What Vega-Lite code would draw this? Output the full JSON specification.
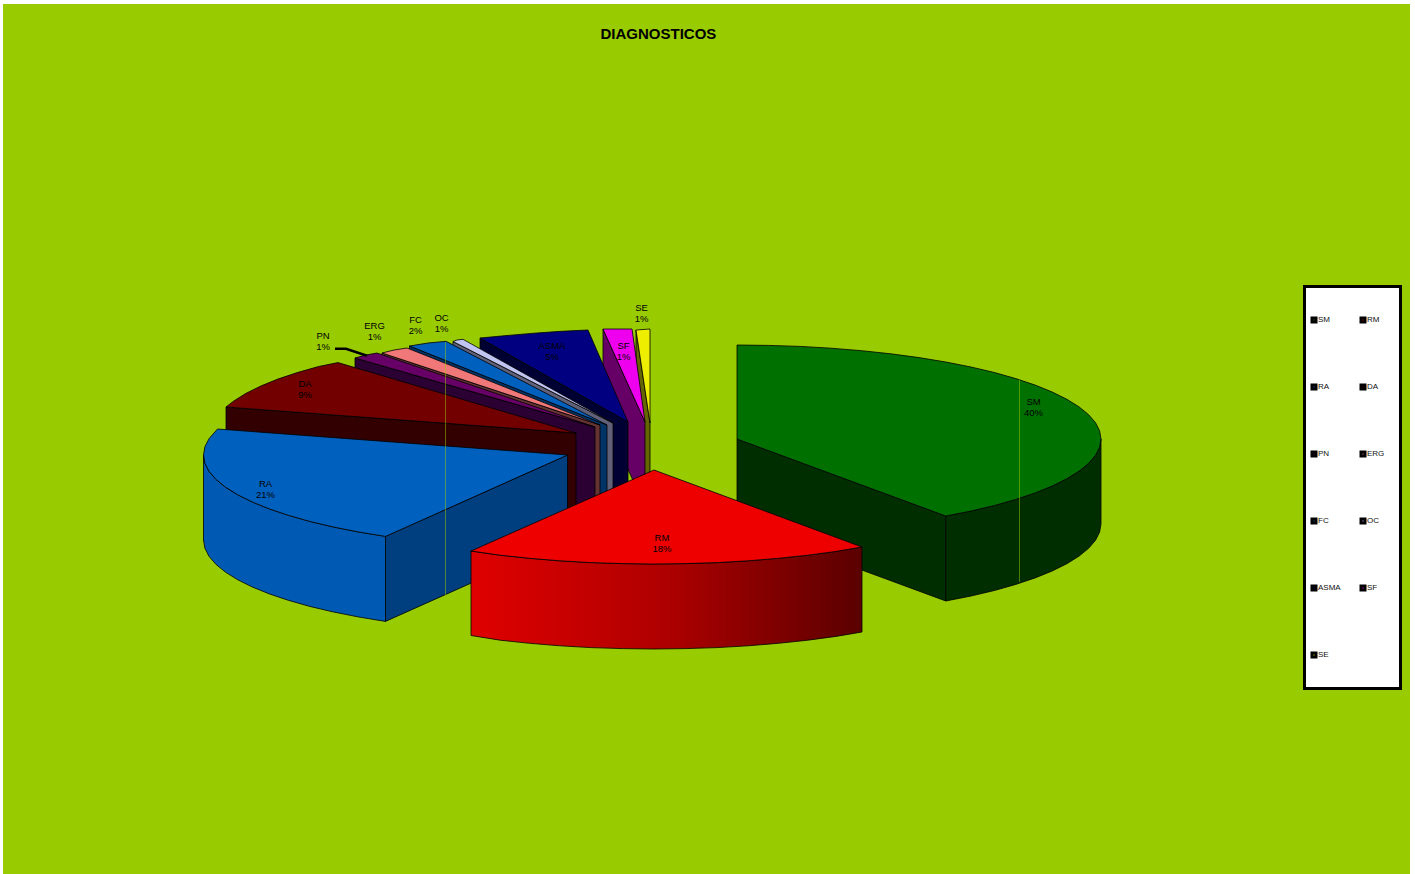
{
  "$schema": "https://vega.github.io/schema/vega-lite/v6.json",
  "width": 1407,
  "height": 870,
  "autosize": {"type": "none"},
  "padding": {"left": 3, "top": 4, "right": 5, "bottom": 0},
  "background": "#ffffff",
  "view": {"fill": "#99CC00", "stroke": null},
  "title": {
    "text": "DIAGNOSTICOS",
    "anchor": "start",
    "frame": "group",
    "align": "left",
    "dx": 597.5,
    "dy": 41.5,
    "font": "Liberation Sans",
    "fontSize": 15,
    "fontWeight": "bold",
    "color": "#000000"
  },
  "datasets": {
    "outlines": [
      {"face":"SE wall","x":636,"y":330},{"face":"SE wall","x":650,"y":423},{"face":"SE wall","x":650,"y":508},{"face":"SE wall","x":636,"y":415},{"face":"SE wall","x":636,"y":330},
      {"face":"SE","x":636,"y":330},{"face":"SE","x":650,"y":329},{"face":"SE","x":650,"y":423},{"face":"SE","x":636,"y":330},
      {"face":"SF wall","x":603,"y":329},{"face":"SF wall","x":645,"y":422},{"face":"SF wall","x":645,"y":507},{"face":"SF wall","x":603,"y":414},{"face":"SF wall","x":603,"y":329},
      {"face":"SF","x":603,"y":329},{"face":"SF","x":632,"y":329},{"face":"SF","x":645,"y":422},{"face":"SF","x":603,"y":329},
      {"face":"ASMA wall","x":480,"y":338},{"face":"ASMA wall","x":628,"y":422},{"face":"ASMA wall","x":628,"y":507},{"face":"ASMA wall","x":480,"y":423},{"face":"ASMA wall","x":480,"y":338},
      {"face":"ASMA","x":480,"y":338},{"face":"ASMA","x":507,"y":335.5},{"face":"ASMA","x":534,"y":333.2},{"face":"ASMA","x":561,"y":331.3},{"face":"ASMA","x":588,"y":330},{"face":"ASMA","x":628,"y":422},{"face":"ASMA","x":480,"y":338},
      {"face":"OC wall","x":453,"y":341.5},{"face":"OC wall","x":613,"y":423},{"face":"OC wall","x":613,"y":508},{"face":"OC wall","x":453,"y":426.5},{"face":"OC wall","x":453,"y":341.5},
      {"face":"OC","x":453,"y":341.5},{"face":"OC","x":457,"y":340},{"face":"OC","x":463,"y":339.3},{"face":"OC","x":613,"y":423},{"face":"OC","x":453,"y":341.5},
      {"face":"FC wall","x":409.5,"y":346},{"face":"FC wall","x":607,"y":425},{"face":"FC wall","x":607,"y":510},{"face":"FC wall","x":409.5,"y":431},{"face":"FC wall","x":409.5,"y":346},
      {"face":"FC","x":409.5,"y":346},{"face":"FC","x":428,"y":343},{"face":"FC","x":446,"y":341.3},{"face":"FC","x":607,"y":425},{"face":"FC","x":409.5,"y":346},
      {"face":"ERG wall","x":382,"y":353},{"face":"ERG wall","x":600,"y":425},{"face":"ERG wall","x":600,"y":510},{"face":"ERG wall","x":382,"y":438},{"face":"ERG wall","x":382,"y":353},
      {"face":"ERG","x":382,"y":353},{"face":"ERG","x":394,"y":350},{"face":"ERG","x":407,"y":348},{"face":"ERG","x":600,"y":425},{"face":"ERG","x":382,"y":353},
      {"face":"PN wall","x":355,"y":358},{"face":"PN wall","x":595,"y":427},{"face":"PN wall","x":595,"y":512},{"face":"PN wall","x":355,"y":443},{"face":"PN wall","x":355,"y":358},
      {"face":"PN","x":355,"y":358},{"face":"PN","x":366,"y":355},{"face":"PN","x":377,"y":353},{"face":"PN","x":595,"y":427},{"face":"PN","x":355,"y":358},
      {"face":"DA wall","x":226,"y":407},{"face":"DA wall","x":576,"y":433},{"face":"DA wall","x":576,"y":518},{"face":"DA wall","x":226,"y":492},{"face":"DA wall","x":226,"y":407},
      {"face":"DA","x":226,"y":407},{"face":"DA","x":233.9,"y":400.9},{"face":"DA","x":246.1,"y":393.3},{"face":"DA","x":260.8,"y":386},{"face":"DA","x":277.8,"y":379.1},{"face":"DA","x":297.2,"y":372.6},{"face":"DA","x":318.6,"y":366.5},{"face":"DA","x":338,"y":362.6},{"face":"DA","x":576,"y":433},{"face":"DA","x":226,"y":407},
      {"face":"RA inner wall","x":567.5,"y":455},{"face":"RA inner wall","x":385.5,"y":536.4},{"face":"RA inner wall","x":385.5,"y":621.4},{"face":"RA inner wall","x":567.5,"y":540},{"face":"RA inner wall","x":567.5,"y":455},
      {"face":"RA wall","x":385.5,"y":536.4},{"face":"RA wall","x":358.7,"y":532},{"face":"RA wall","x":333.5,"y":527},{"face":"RA wall","x":310.1,"y":521.5},{"face":"RA wall","x":288.7,"y":515.4},{"face":"RA wall","x":269.3,"y":508.9},{"face":"RA wall","x":252.3,"y":502},{"face":"RA wall","x":237.6,"y":494.7},{"face":"RA wall","x":225.4,"y":487.1},{"face":"RA wall","x":215.9,"y":479.3},{"face":"RA wall","x":209,"y":471.3},{"face":"RA wall","x":204.9,"y":463.2},{"face":"RA wall","x":203.5,"y":455},
      {"face":"RA wall","x":203.5,"y":540},{"face":"RA wall","x":204.9,"y":548.2},{"face":"RA wall","x":209,"y":556.3},{"face":"RA wall","x":215.9,"y":564.3},{"face":"RA wall","x":225.4,"y":572.1},{"face":"RA wall","x":237.6,"y":579.7},{"face":"RA wall","x":252.3,"y":587},{"face":"RA wall","x":269.3,"y":593.9},{"face":"RA wall","x":288.7,"y":600.4},{"face":"RA wall","x":310.1,"y":606.5},{"face":"RA wall","x":333.5,"y":612},{"face":"RA wall","x":358.7,"y":617},{"face":"RA wall","x":385.5,"y":621.4},{"face":"RA wall","x":385.5,"y":536.4},
      {"face":"RA","x":567.5,"y":455},{"face":"RA","x":385.5,"y":536.4},{"face":"RA","x":358.7,"y":532},{"face":"RA","x":333.5,"y":527},{"face":"RA","x":310.1,"y":521.5},{"face":"RA","x":288.7,"y":515.4},{"face":"RA","x":269.3,"y":508.9},{"face":"RA","x":252.3,"y":502},{"face":"RA","x":237.6,"y":494.7},{"face":"RA","x":225.4,"y":487.1},{"face":"RA","x":215.9,"y":479.3},{"face":"RA","x":209,"y":471.3},{"face":"RA","x":204.9,"y":463.2},{"face":"RA","x":203.5,"y":455},{"face":"RA","x":204.9,"y":446.8},{"face":"RA","x":209,"y":438.7},{"face":"RA","x":217.5,"y":429},{"face":"RA","x":567.5,"y":455},
      {"face":"SM inner wall","x":737,"y":439},{"face":"SM inner wall","x":945.8,"y":516},{"face":"SM inner wall","x":945.8,"y":601},{"face":"SM inner wall","x":737,"y":524},{"face":"SM inner wall","x":737,"y":439},
      {"face":"SM wall","x":1101,"y":439},{"face":"SM wall","x":1099.6,"y":447.2},{"face":"SM wall","x":1095.5,"y":455.3},{"face":"SM wall","x":1088.6,"y":463.3},{"face":"SM wall","x":1079.1,"y":471.1},{"face":"SM wall","x":1066.9,"y":478.7},{"face":"SM wall","x":1052.2,"y":486},{"face":"SM wall","x":1035.2,"y":492.9},{"face":"SM wall","x":1015.8,"y":499.4},{"face":"SM wall","x":994.4,"y":505.5},{"face":"SM wall","x":971,"y":511},{"face":"SM wall","x":945.8,"y":516},
      {"face":"SM wall","x":945.8,"y":601},{"face":"SM wall","x":971,"y":596},{"face":"SM wall","x":994.4,"y":590.5},{"face":"SM wall","x":1015.8,"y":584.4},{"face":"SM wall","x":1035.2,"y":577.9},{"face":"SM wall","x":1052.2,"y":571},{"face":"SM wall","x":1066.9,"y":563.7},{"face":"SM wall","x":1079.1,"y":556.1},{"face":"SM wall","x":1088.6,"y":548.3},{"face":"SM wall","x":1095.5,"y":540.3},{"face":"SM wall","x":1099.6,"y":532.2},{"face":"SM wall","x":1101,"y":524},{"face":"SM wall","x":1101,"y":439},
      {"face":"SM","x":737,"y":439},{"face":"SM","x":737,"y":345},{"face":"SM","x":768.7,"y":345.4},{"face":"SM","x":800.2,"y":346.4},{"face":"SM","x":831.2,"y":348.2},{"face":"SM","x":861.5,"y":350.7},{"face":"SM","x":890.8,"y":353.8},{"face":"SM","x":919,"y":357.6},{"face":"SM","x":945.8,"y":362},{"face":"SM","x":971,"y":367},{"face":"SM","x":994.4,"y":372.5},{"face":"SM","x":1015.8,"y":378.6},{"face":"SM","x":1035.2,"y":385.1},{"face":"SM","x":1052.2,"y":392},{"face":"SM","x":1066.9,"y":399.3},{"face":"SM","x":1079.1,"y":406.9},{"face":"SM","x":1088.6,"y":414.7},{"face":"SM","x":1095.5,"y":422.7},{"face":"SM","x":1099.6,"y":430.8},{"face":"SM","x":1101,"y":439},{"face":"SM","x":1099.6,"y":447.2},{"face":"SM","x":1095.5,"y":455.3},{"face":"SM","x":1088.6,"y":463.3},{"face":"SM","x":1079.1,"y":471.1},{"face":"SM","x":1066.9,"y":478.7},{"face":"SM","x":1052.2,"y":486},{"face":"SM","x":1035.2,"y":492.9},{"face":"SM","x":1015.8,"y":499.4},{"face":"SM","x":994.4,"y":505.5},{"face":"SM","x":971,"y":511},{"face":"SM","x":945.8,"y":516},{"face":"SM","x":737,"y":439},
      {"face":"RM wall","x":862,"y":547},{"face":"RM wall","x":836,"y":551.4},{"face":"RM wall","x":807.8,"y":555.2},{"face":"RM wall","x":778.5,"y":558.3},{"face":"RM wall","x":748.2,"y":560.8},{"face":"RM wall","x":717.2,"y":562.6},{"face":"RM wall","x":685.7,"y":563.6},{"face":"RM wall","x":654,"y":564},{"face":"RM wall","x":622.3,"y":563.6},{"face":"RM wall","x":590.8,"y":562.6},{"face":"RM wall","x":559.8,"y":560.8},{"face":"RM wall","x":529.5,"y":558.3},{"face":"RM wall","x":500.2,"y":555.2},{"face":"RM wall","x":471,"y":551},
      {"face":"RM wall","x":471,"y":635.5},{"face":"RM wall","x":500.2,"y":640.2},{"face":"RM wall","x":529.5,"y":643.3},{"face":"RM wall","x":559.8,"y":645.8},{"face":"RM wall","x":590.8,"y":647.6},{"face":"RM wall","x":622.3,"y":648.6},{"face":"RM wall","x":654,"y":649},{"face":"RM wall","x":685.7,"y":648.6},{"face":"RM wall","x":717.2,"y":647.6},{"face":"RM wall","x":748.2,"y":645.8},{"face":"RM wall","x":778.5,"y":643.3},{"face":"RM wall","x":807.8,"y":640.2},{"face":"RM wall","x":836,"y":636.4},{"face":"RM wall","x":862,"y":632},{"face":"RM wall","x":862,"y":547},
      {"face":"RM","x":654,"y":470},{"face":"RM","x":862,"y":547},{"face":"RM","x":836,"y":551.4},{"face":"RM","x":807.8,"y":555.2},{"face":"RM","x":778.5,"y":558.3},{"face":"RM","x":748.2,"y":560.8},{"face":"RM","x":717.2,"y":562.6},{"face":"RM","x":685.7,"y":563.6},{"face":"RM","x":654,"y":564},{"face":"RM","x":622.3,"y":563.6},{"face":"RM","x":590.8,"y":562.6},{"face":"RM","x":559.8,"y":560.8},{"face":"RM","x":529.5,"y":558.3},{"face":"RM","x":500.2,"y":555.2},{"face":"RM","x":471,"y":551},{"face":"RM","x":654,"y":470}
    ],
    "labels": [
      {"label":"SM\n40%","x":1033.5,"y":407.5},
      {"label":"RM\n18%","x":662,"y":543.5},
      {"label":"RA\n21%","x":265.5,"y":489.5},
      {"label":"DA\n9%","x":305,"y":389.5},
      {"label":"PN\n1%","x":323,"y":341.5},
      {"label":"ERG\n1%","x":374.5,"y":331.5},
      {"label":"FC\n2%","x":415.5,"y":325.5},
      {"label":"OC\n1%","x":441.5,"y":323.5},
      {"label":"ASMA\n5%","x":552,"y":351.5},
      {"label":"SF\n1%","x":623.5,"y":351.5},
      {"label":"SE\n1%","x":641.5,"y":313.5}
    ]
  },
  "encoding": {
    "x": {"field": "x", "type": "quantitative", "scale": {"domain": [3, 1410], "nice": false, "zero": false}, "axis": null},
    "y": {"field": "y", "type": "quantitative", "scale": {"domain": [4, 874], "nice": false, "zero": false, "reverse": true}, "axis": null}
  },
  "layer": [
    {
      "data": {"name": "outlines"},
      "transform": [
        {"filter": "datum.face !== 'RM' && datum.face !== 'RM wall'"},
        {"window": [{"op": "row_number", "as": "n"}]}
      ],
      "mark": {"type": "line", "stroke": "#000000", "strokeWidth": 0.8, "strokeJoin": "miter"},
      "encoding": {
        "order": {"field": "n", "type": "quantitative"},
        "detail": {"field": "face"},
        "fill": {
          "field": "face",
          "type": "nominal",
          "scale": {
            "domain": ["SM","RM","RA","DA","PN","ERG","FC","OC","ASMA","SF","SE","SM wall","SM inner wall","RA wall","RA inner wall","DA wall","PN wall","ERG wall","FC wall","OC wall","ASMA wall","SF wall","SE wall"],
            "range": ["#007000","#EE0000","#0060BE","#730000","#660066","#F07878","#0060BE","#C0C4F0","#000080","#EE00EE","#EEEE00","#002E00","#002E00","#005AB4","#003F7F","#330000","#2B0033","#663333","#003366","#606078","#000033","#660066","#666600"]
          },
          "legend": {
            "values": ["SM","RM","RA","DA","PN","ERG","FC","OC","ASMA","SF","SE"],
            "title": null,
            "orient": "none",
            "legendX": 1307,
            "legendY": 312,
            "direction": "horizontal",
            "columns": 2,
            "columnPadding": 14,
            "rowPadding": 51,
            "gridAlign": "all",
            "symbolType": "square",
            "symbolSize": 16,
            "symbolStrokeColor": "#000000",
            "symbolStrokeWidth": 3,
            "labelFont": "Liberation Sans",
            "labelFontSize": 8,
            "labelColor": "#111111",
            "labelOffset": 0,
            "zindex": 1
          }
        }
      }
    },
    {
      "data": {"name": "outlines"},
      "transform": [
        {"filter": "datum.face === 'RM wall'"},
        {"window": [{"op": "row_number", "as": "n"}]}
      ],
      "mark": {
        "type": "line",
        "stroke": "#000000",
        "strokeWidth": 0.8,
        "fill": {
          "gradient": "linear",
          "x1": 0, "x2": 1, "y1": 0, "y2": 0,
          "stops": [
            {"offset": 0, "color": "#E00000"},
            {"offset": 0.5, "color": "#AE0000"},
            {"offset": 1, "color": "#5A0000"}
          ]
        }
      },
      "encoding": {
        "order": {"field": "n", "type": "quantitative"}
      }
    },
    {
      "data": {"name": "outlines"},
      "transform": [
        {"filter": "datum.face === 'RM'"},
        {"window": [{"op": "row_number", "as": "n"}]}
      ],
      "mark": {"type": "line", "stroke": "#000000", "strokeWidth": 0.8, "fill": "#EE0000"},
      "encoding": {
        "order": {"field": "n", "type": "quantitative"}
      }
    },
    {
      "data": {"values": [{"x": 445.5, "y": 342, "y2": 595}, {"x": 1019.5, "y": 380, "y2": 582}]},
      "mark": {"type": "rule", "color": "#99CC00", "strokeWidth": 1, "opacity": 0.5},
      "encoding": {"y2": {"field": "y2"}}
    },
    {
      "data": {"values": [{"x": 335, "y": 348.7, "n": 1}, {"x": 346, "y": 348.7, "n": 2}, {"x": 367, "y": 355.7, "n": 3}]},
      "mark": {"type": "line", "color": "#000000", "strokeWidth": 2.5},
      "encoding": {"order": {"field": "n", "type": "quantitative"}}
    },
    {
      "data": {"name": "labels"},
      "mark": {"type": "text", "font": "Liberation Sans", "fontSize": 9.5, "lineBreak": "\n", "lineHeight": 11, "align": "center", "baseline": "middle", "color": "#000000", "dy": -6},
      "encoding": {"text": {"field": "label"}}
    },
    {
      "data": {"values": [{"x": 1304.5, "x2": 1400.5, "y": 286.5, "y2": 688.5}]},
      "mark": {"type": "rect", "fill": "#FFFFFF", "stroke": "#000000", "strokeWidth": 3},
      "encoding": {"x2": {"field": "x2"}, "y2": {"field": "y2"}}
    }
  ]
}
